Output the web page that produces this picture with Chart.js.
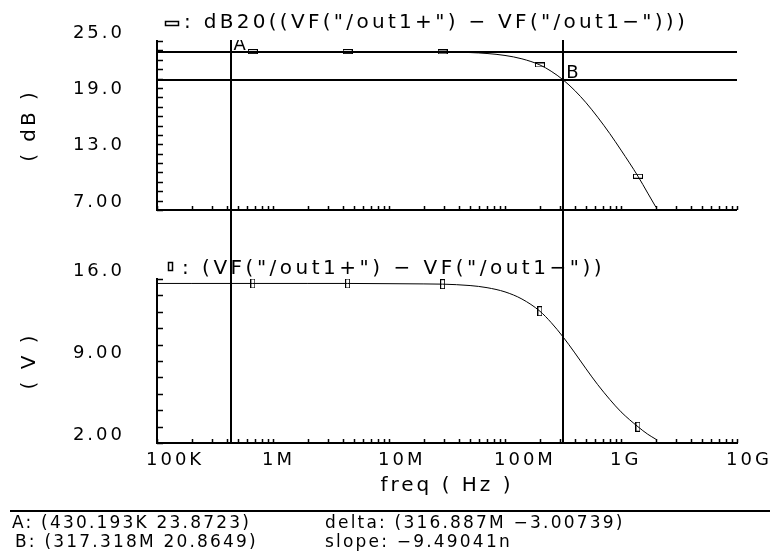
<!DOCTYPE html>
<html>
<head>
<meta charset="utf-8">
<script src="https://cdn.jsdelivr.net/npm/chart.js@4.4.1/dist/chart.umd.min.js"></script>
<style>
  body { margin: 0; background: #fff; }
  #wrap { position: relative; width: 773px; height: 559px; overflow: hidden; }
  #chart { position: absolute; left: 0; top: 0; }
  .readout { position: absolute; font-family: 'DejaVu Sans'; font-size: 17px; line-height: 20px; letter-spacing: 2.2px; color: #000; white-space: pre; }
  #rule { position: absolute; left: 10px; top: 510px; width: 760px; height: 0; border-top: 2px solid #000; }
</style>
</head>
<body>
<div id="wrap">
  <canvas id="chart" width="773" height="559"></canvas>
  <div id="rule"></div>
  <div class="readout" id="readA" style="left:12px;top:512px"></div>
  <div class="readout" id="readB" style="left:15px;top:531px"></div>
  <div class="readout" id="readDelta" style="left:325px;top:512px"></div>
  <div class="readout" id="readSlope" style="left:325px;top:531px"></div>
</div>
<script>
// sweep points
const freqHz = [1e5, 2e5, 4.3e5, 6.7e5, 1e6, 2e6, 4.4e6, 1e7, 2e7, 2.9e7, 5e7, 7e7, 1e8,
                1.4e8, 2e8, 2.5e8, 3.17e8, 4e8, 5e8, 6.3e8, 8e8, 1e9, 1.4e9, 1.7e9, 2e9];
const gainDb = [23.87, 23.87, 23.87, 23.87, 23.87, 23.87, 23.87, 23.86, 23.85, 23.84, 23.77, 23.67, 23.46,
                23.10, 22.45, 21.78, 20.86, 19.72, 18.42, 16.88, 15.14, 13.38, 10.6, 8.8, 7.3];
const gainV = [15.62, 15.62, 15.62, 15.62, 15.62, 15.62, 15.62, 15.60, 15.58, 15.56, 15.44, 15.26, 14.90,
               14.29, 13.25, 12.28, 11.05, 9.69, 8.33, 6.98, 5.72, 4.66, 3.39, 2.75, 2.32];
const markerIdx = [3, 6, 9, 14, 22]; // where the trace symbols sit

// cursors A and B
const cursorNames = ['A', 'B'];
const cursorFreq = [430193, 317318000];
const cursorDb = [23.8723, 20.8649];
const readoutText = ['A: (430.193K 23.8723)', 'B: (317.318M 20.8649)', 'delta: (316.887M \u22123.00739)', 'slope: \u22129.49041n'];

// axes
const xDecades = [1e5, 1e6, 1e7, 1e8, 1e9, 1e10];
const xDecadeLabels = ['100K', '1M', '10M', '100M', '1G', '10G'];
const dbMajor = [25, 19, 13, 7];
const dbMajorLabels = ['25.0', '19.0', '13.0', '7.00'];
const vMajor = [16, 9, 2];
const vMajorLabels = ['16.0', '9.00', '2.00'];
const topTitle = ': dB20((VF("/out1+") \u2212 VF("/out1\u2212")))';
const botTitle = ': (VF("/out1+") \u2212 VF("/out1\u2212"))';

const FONT = 'DejaVu Sans';

// minor tick positions
const xTickValues = [];
for (let d = 0; d < xDecades.length - 1; d++) {
    for (let k = 1; k < 10; k++) xTickValues.push(k * xDecades[d]);
}
xTickValues.push(xDecades[xDecades.length - 1]);
const dbTickValues = [];
for (let v = 7; v <= 25; v++) dbTickValues.push(v);
const vTickValues = [];
for (let k = 0; k <= 10; k++) vTickValues.push(Math.round((2 + 1.4 * k) * 10) / 10);

function labelFor(value, majors, labels) {
    const i = majors.findIndex(m => Math.abs(m - value) < 1e-6 * Math.max(1, m));
    return i >= 0 ? labels[i] : '';
}

// little hollow rectangles used as trace symbols
function makeMark(w, h) {
    const c = document.createElement('canvas');
    c.width = w; c.height = h;
    const g = c.getContext('2d');
    g.strokeStyle = '#000';
    g.lineWidth = 1;
    g.strokeRect(0.5, 0.5, w - 1, h - 1);
    return c;
}
const hMark = makeMark(10, 5);
const vMark = makeMark(5, 10);
const markRadius = freqHz.map((f, i) => markerIdx.includes(i) ? 4 : 0);

// draws ticks, the top plot x-axis, cursors and trace titles
const cadencePlugin = {
    id: 'cadence',
    beforeDraw(chart) {
        chart.ctx.letterSpacing = '3px';
    },
    afterDraw(chart) {
        const { ctx, chartArea } = chart;
        const { x, yTop, yBot } = chart.scales;
        ctx.save();
        ctx.strokeStyle = '#000';
        ctx.fillStyle = '#000';

        // bottom line of the upper plot
        ctx.lineWidth = 2;
        ctx.beginPath();
        ctx.moveTo(chartArea.left, Math.round(yTop.bottom));
        ctx.lineTo(chartArea.right, Math.round(yTop.bottom));
        ctx.stroke();

        // inward tick marks
        ctx.lineWidth = 1.5;
        ctx.beginPath();
        x.ticks.forEach(t => {
            const px = Math.round(x.getPixelForValue(t.value)) + 0.5;
            [yTop.bottom, yBot.bottom].forEach(b => {
                ctx.moveTo(px, b);
                ctx.lineTo(px, b - 4);
            });
        });
        [yTop, yBot].forEach(s => {
            s.ticks.forEach(t => {
                const py = Math.round(s.getPixelForValue(t.value)) + 0.5;
                ctx.moveTo(s.right, py);
                ctx.lineTo(s.right + 6, py);
            });
        });
        ctx.stroke();

        // cursor lines
        ctx.lineWidth = 2;
        ctx.beginPath();
        cursorFreq.forEach(f => {
            const px = Math.round(x.getPixelForValue(f));
            ctx.moveTo(px, yTop.top - 1);
            ctx.lineTo(px, yBot.bottom);
        });
        cursorDb.forEach(v => {
            const py = Math.round(yTop.getPixelForValue(v));
            ctx.moveTo(chartArea.left, py);
            ctx.lineTo(chartArea.right, py);
        });
        ctx.stroke();

        // cursor names, clipped to the upper plot
        ctx.save();
        ctx.beginPath();
        ctx.rect(chartArea.left, yTop.top - 1, chartArea.right - chartArea.left, yTop.bottom - yTop.top);
        ctx.clip();
        ctx.font = '18px ' + FONT;
        ctx.letterSpacing = '0px';
        ctx.textBaseline = 'alphabetic';
        ctx.textAlign = 'left';
        cursorNames.forEach((n, i) => {
            ctx.fillText(n, x.getPixelForValue(cursorFreq[i]) + 3, yTop.getPixelForValue(cursorDb[i]) - 2);
        });
        ctx.restore();

        // trace titles with their symbols
        ctx.lineWidth = 1.5;
        ctx.strokeRect(165.5, 21.5, 13, 4);
        ctx.strokeRect(168.5, 262.5, 4, 8);
        ctx.font = '20px ' + FONT;
        ctx.textAlign = 'left';
        ctx.textBaseline = 'alphabetic';
        ctx.letterSpacing = '3.3px';
        ctx.fillText(topTitle, 184, 28);
        ctx.letterSpacing = '3.5px';
        ctx.fillText(botTitle, 182, 274);
        ctx.restore();
    }
};

function yAxis(min, max, weight, tickValues, majors, labels, titleText) {
    return {
        type: 'linear',
        position: 'left',
        stack: 'plots',
        stackWeight: weight,
        min: min,
        max: max,
        grid: { display: false, drawTicks: false },
        border: { display: true, color: '#000', width: 2 },
        afterBuildTicks: s => { s.ticks = tickValues.map(v => ({ value: v })); },
        afterFit: s => { s.width = 157; s.paddingTop = 0; s.paddingBottom = 0; },
        ticks: {
            autoSkip: false,
            padding: 32,
            labelOffset: -8,
            color: '#000',
            font: { family: FONT, size: 18 },
            callback: v => labelFor(v, majors, labels)
        },
        title: {
            display: true,
            text: titleText,
            color: '#000',
            font: { family: FONT, size: 20, lineHeight: 1.2 },
            padding: { top: 18, bottom: 0 }
        }
    };
}

const ctx = document.getElementById('chart').getContext('2d');
const chart = new Chart(ctx, {
    type: 'line',
    data: {
        datasets: [{
            data: freqHz.map((f, i) => ({ x: f, y: gainDb[i] })),
            yAxisID: 'yTop',
            borderColor: '#000',
            borderWidth: 1,
            pointStyle: hMark,
            pointRadius: markRadius,
            cubicInterpolationMode: 'monotone'
        }, {
            data: freqHz.map((f, i) => ({ x: f, y: gainV[i] })),
            yAxisID: 'yBot',
            borderColor: '#000',
            borderWidth: 1,
            pointStyle: vMark,
            pointRadius: markRadius,
            cubicInterpolationMode: 'monotone'
        }]
    },
    options: {
        responsive: false,
        animation: false,
        devicePixelRatio: 1,
        layout: { padding: { left: 0, right: 36, top: 41, bottom: 60 } },
        plugins: {
            legend: { display: false },
            tooltip: { enabled: false },
            title: { display: false }
        },
        scales: {
            x: {
                type: 'logarithmic',
                min: 1e5,
                max: 1e10,
                grid: { display: false, drawTicks: false },
                border: { display: true, color: '#000', width: 2 },
                afterBuildTicks: s => { s.ticks = xTickValues.map(v => ({ value: v })); },
                afterFit: s => { s.height = 56; s.paddingLeft = 0; s.paddingRight = 0; },
                ticks: {
                    autoSkip: false,
                    maxRotation: 0,
                    align: 'start',
                    labelOffset: -11,
                    padding: 7,
                    color: '#000',
                    font: { family: FONT, size: 18 },
                    callback: v => labelFor(v, xDecades, xDecadeLabels)
                },
                title: {
                    display: true,
                    text: 'freq ( Hz )',
                    color: '#000',
                    font: { family: FONT, size: 20, lineHeight: 1.2 },
                    padding: { top: 0, bottom: 1 }
                }
            },
            // stacked left axes: the last one listed ends up on top
            yBot: yAxis(2, 16, 164, vTickValues, vMajor, vMajorLabels, '( V )'),
            yGap: {
                type: 'linear',
                position: 'left',
                stack: 'plots',
                stackWeight: 69,
                min: 0,
                max: 1,
                grid: { display: false, drawTicks: false },
                border: { display: false },
                ticks: { display: false },
                afterFit: s => { s.width = 157; s.paddingTop = 0; s.paddingBottom = 0; }
            },
            yTop: yAxis(7, 25, 169, dbTickValues, dbMajor, dbMajorLabels, '( dB )')
        }
    },
    plugins: [cadencePlugin]
});

// cursor readout under the plots
document.getElementById('readA').textContent = readoutText[0];
document.getElementById('readB').textContent = readoutText[1];
document.getElementById('readDelta').textContent = readoutText[2];
document.getElementById('readSlope').textContent = readoutText[3];
</script>
</body>
</html>
